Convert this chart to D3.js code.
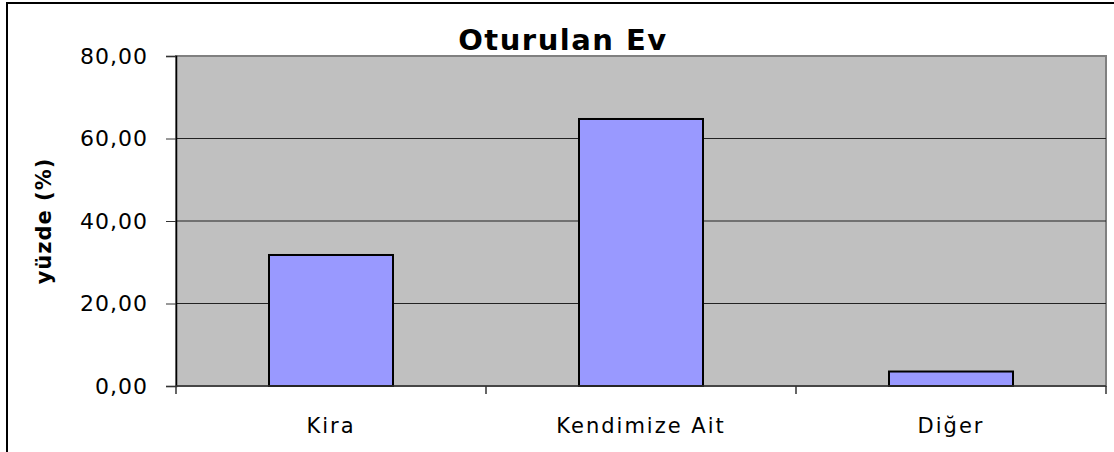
<!DOCTYPE html>
<html>
<head>
<meta charset="utf-8">
<script src="https://cdn.jsdelivr.net/npm/d3@7"></script>
<style>
  body { margin: 0; background: #fff; }
  svg { display: block; }
  text { font-family: "Comic Sans MS", "DejaVu Sans", sans-serif; fill: #000; }
</style>
</head>
<body>
<svg></svg>
<script>
// chart data
let categories = ["Kira", "Kendimize Ait", "Diğer"];
let values = [31.76, 64.73, 3.51];
let yTicks = [0, 20, 40, 60, 80];
let title = "Oturulan Ev";
let yLabel = "yüzde (%)";

let W = 1114, H = 452;
let margin = {top: 56, right: 8, bottom: 66, left: 176};
let width = W - margin.left - margin.right;
let height = H - margin.top - margin.bottom;

let svg = d3.select('svg')
  .attr('width', W)
  .attr('height', H);

// outer chart border (left + top only visible)
svg.append('path')
  .attr('d', `M7,${H} L7,3 L${W},3`)
  .attr('fill', 'none')
  .attr('stroke', '#000')
  .attr('stroke-width', 2);

let g = svg.append('g')
  .attr('transform', `translate(${margin.left},${margin.top})`);

let xScale = d3.scaleBand()
  .domain(categories)
  .range([0, width])
  .paddingInner(0.6)
  .paddingOuter(0.3);

let yScale = d3.scaleLinear()
  .domain([0, 80])
  .range([height, 0]);

// plot area
g.append('rect')
  .attr('x', 0).attr('y', 0)
  .attr('width', width).attr('height', height)
  .attr('fill', '#c0c0c0')
  .attr('stroke', '#808080')
  .attr('stroke-width', 2);

// gridlines
g.selectAll('.grid')
  .data(yTicks.filter(d => d > 0 && d < 80))
  .enter().append('line')
  .attr('x1', 0).attr('x2', width)
  .attr('y1', d => yScale(d)).attr('y2', d => yScale(d))
  .attr('stroke', '#222')
  .attr('stroke-width', 1);

// bars
g.selectAll('.bar')
  .data(values)
  .enter().append('rect')
  .attr('x', (d, i) => xScale(categories[i]))
  .attr('y', d => yScale(d))
  .attr('width', xScale.bandwidth())
  .attr('height', d => height - yScale(d))
  .attr('fill', '#9999ff')
  .attr('stroke', '#000')
  .attr('stroke-width', 2);

// y axis
let yAxis = g.append('g')
  .call(d3.axisLeft(yScale).tickValues(yTicks).tickSize(10).tickPadding(18)
    .tickFormat(d => d3.format('.2f')(d).replace('.', ',')));
yAxis.select('.domain').attr('stroke', '#000').attr('stroke-width', 1.5);
yAxis.selectAll('.tick line').attr('stroke', '#333');
yAxis.selectAll('text')
  .attr('font-size', 22)
  .attr('letter-spacing', 1)
  .attr('font-family', '"Comic Sans MS", "DejaVu Sans", sans-serif');

// x axis with ticks between categories
let step = width / categories.length;
let xAxis = g.append('g')
  .attr('transform', `translate(0,${height})`);
xAxis.append('line')
  .attr('x1', 0).attr('x2', width)
  .attr('stroke', '#333').attr('stroke-width', 1.5);
xAxis.selectAll('.sep')
  .data(d3.range(categories.length + 1))
  .enter().append('line')
  .attr('x1', d => d * step).attr('x2', d => d * step)
  .attr('y1', 0).attr('y2', 8)
  .attr('stroke', '#333').attr('stroke-width', 1.5);
xAxis.selectAll('.lbl')
  .data(categories)
  .enter().append('text')
  .attr('x', d => xScale(d) + xScale.bandwidth() / 2)
  .attr('y', 47)
  .attr('text-anchor', 'middle')
  .attr('font-size', 21)
  .attr('letter-spacing', 2)
  .text(d => d);

// title
svg.append('text')
  .attr('x', 563)
  .attr('y', 50)
  .attr('text-anchor', 'middle')
  .attr('font-size', 29)
  .attr('font-weight', 'bold')
  .attr('letter-spacing', 1.5)
  .text(title);

// y label
svg.append('text')
  .attr('transform', `translate(51,${margin.top + height / 2}) rotate(-90)`)
  .attr('text-anchor', 'middle')
  .attr('font-size', 21)
  .attr('font-weight', 'bold')
  .attr('letter-spacing', 1)
  .text(yLabel);
</script>
</body>
</html>
